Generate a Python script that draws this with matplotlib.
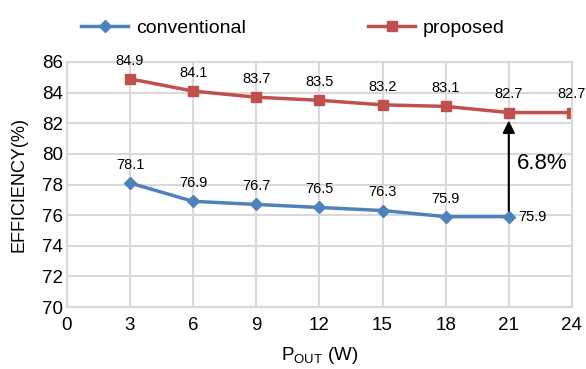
import matplotlib
matplotlib.use("Agg")
import matplotlib.pyplot as plt

plt.rcParams["font.family"] = ["Liberation Sans", "DejaVu Sans"]

# Data
pout_conv = [3, 6, 9, 12, 15, 18, 21]
eff_conv = [78.1, 76.9, 76.7, 76.5, 76.3, 75.9, 75.9]
pout_prop = [3, 6, 9, 12, 15, 18, 21, 24]
eff_prop = [84.9, 84.1, 83.7, 83.5, 83.2, 83.1, 82.7, 82.7]
x_ticks = [0, 3, 6, 9, 12, 15, 18, 21, 24]
y_ticks = [70, 72, 74, 76, 78, 80, 82, 84, 86]

blue = "#4F81BD"
red = "#C0504D"

fig = plt.figure(figsize=(5.86, 3.69), dpi=100)
ax = fig.add_axes([0.114, 0.168, 0.862, 0.664])

ax.plot(pout_conv, eff_conv, color=blue, lw=2.5, marker="D", ms=6, label="conventional")
ax.plot(pout_prop, eff_prop, color=red, lw=2.5, marker="s", ms=7, label="proposed")

# value labels
for i, (x, y) in enumerate(zip(pout_conv, eff_conv)):
    if i == len(pout_conv) - 1:
        ax.annotate(f"{y:.1f}", (x, y), xytext=(7, 0), textcoords="offset points",
                    ha="left", va="center", fontsize=10.5)
    else:
        ax.annotate(f"{y:.1f}", (x, y), xytext=(0, 8), textcoords="offset points",
                    ha="center", va="bottom", fontsize=10.5)
for x, y in zip(pout_prop, eff_prop):
    ax.annotate(f"{y:.1f}", (x, y), xytext=(0, 8), textcoords="offset points",
                ha="center", va="bottom", fontsize=10.5)

# improvement arrow
ax.annotate("", xy=(21, eff_prop[6] - 0.35), xytext=(21, eff_conv[6] + 0.2),
            arrowprops=dict(arrowstyle="-|>", color="black", lw=1.5, mutation_scale=18))
ax.text(22.6, 79.4, "6.8%", ha="center", va="center", fontsize=16)

ax.set_xlim(0, 24)
ax.set_ylim(70, 86)
ax.set_xticks(x_ticks)
ax.set_yticks(y_ticks)
ax.tick_params(axis="both", labelsize=13.5, length=0)
ax.tick_params(axis="x", pad=7)
ax.tick_params(axis="y", pad=3)
ax.grid(True, color="#D9D9D9", lw=1.5)
ax.set_axisbelow(True)
for s in ax.spines.values():
    s.set_color("#D9D9D9")
    s.set_linewidth(1.5)

ax.set_xlabel(r"P$_{\mathregular{OUT}}$ (W)", fontsize=13.5, labelpad=8)
ax.set_ylabel("EFFICIENCY(%)", fontsize=13, labelpad=10)

fig.legend(loc="upper center", bbox_to_anchor=(0.5, 0.995), ncol=2, frameon=False,
           fontsize=14, columnspacing=6.3, handlelength=2.4, handletextpad=0.4)

fig.savefig("out.png", dpi=100)
